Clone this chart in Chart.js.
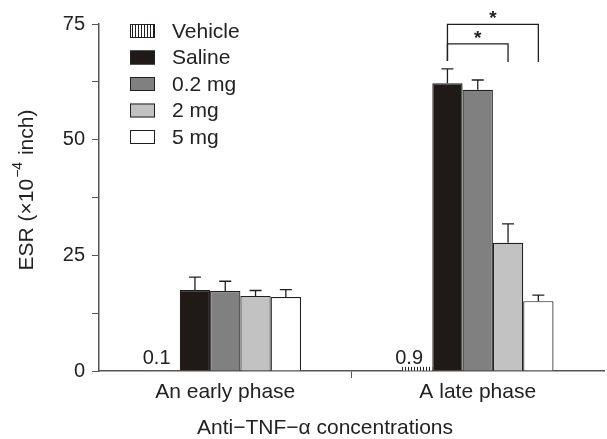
<!DOCTYPE html>
<html>
<head>
<meta charset="utf-8">
<script src="https://cdn.jsdelivr.net/npm/chart.js@4"></script>
<style>
  html, body { margin: 0; padding: 0; background: #fff; }
  #wrap { width: 607px; height: 439px; position: relative; }
</style>
</head>
<body>
<div id="wrap"><canvas id="c"></canvas></div>
<script>
// data
const phases = ['An early phase', 'A late phase'];
const groupNames = ['Vehicle', 'Saline', '0.2 mg', '2 mg', '5 mg'];
const vehicle = [0.1, 0.9];
const saline  = [17.5, 62.2];
const mg02    = [17.3, 60.8];
const mg2     = [16.2, 27.7];
const mg5     = [16.0, 15.1];
// upper error (SEM)
const salineErr = [2.8, 3.1];
const mg02Err   = [2.1, 2.1];
const mg2Err    = [1.2, 4.1];
const mg5Err    = [1.6, 1.3];
const vehicleLabels = ['0.1', '0.9'];
const yTicksShown = [0, 25, 50, 75];
// significance brackets in the late phase: [from group, to group, bracket top, leg bottom, star y]
const brackets = [
    [1, 3, 70.7, 67.0, 72.6],
    [1, 4, 74.9, 67.0, 77.0]
];

const ink = '#231f20';
const axisCol = '#555555';
const font = "'Liberation Sans', Arial, sans-serif";

function hatch() {
    const p = document.createElement('canvas');
    p.width = 3; p.height = 4;
    const g = p.getContext('2d');
    g.fillStyle = '#fff';
    g.fillRect(0, 0, 3, 4);
    g.fillStyle = ink;
    g.fillRect(0, 0, 1, 4);
    return g.createPattern(p, 'repeat');
}

const fills = [hatch(), '#1f1a17', '#808080', '#c2c2c2', '#ffffff'];
const values = [vehicle, saline, mg02, mg2, mg5];
const errs = [null, salineErr, mg02Err, mg2Err, mg5Err];

const extras = {
    id: 'extras',
    afterDatasetsDraw(chart) {
        const ctx = chart.ctx;
        const y = chart.scales.y;
        ctx.save();
        ctx.strokeStyle = ink;
        ctx.lineWidth = 1.3;

        // error bars
        errs.forEach((e, di) => {
            if (!e) return;
            const meta = chart.getDatasetMeta(di);
            meta.data.forEach((bar, i) => {
                const top = y.getPixelForValue(values[di][i] + e[i]);
                ctx.beginPath();
                ctx.moveTo(bar.x, bar.y);
                ctx.lineTo(bar.x, top);
                ctx.moveTo(bar.x - 6, top);
                ctx.lineTo(bar.x + 6, top);
                ctx.stroke();
            });
        });

        // vehicle value labels
        ctx.fillStyle = '#222';
        ctx.font = '20px ' + font;
        ctx.textAlign = 'center';
        ctx.textBaseline = 'bottom';
        chart.getDatasetMeta(0).data.forEach((bar, i) => {
            ctx.fillText(vehicleLabels[i], bar.x - 8, y.getPixelForValue(0) - 3);
        });

        // brackets
        brackets.forEach(b => {
            const x1 = chart.getDatasetMeta(b[0]).data[1].x;
            const x2 = chart.getDatasetMeta(b[1]).data[1].x;
            const top = y.getPixelForValue(b[2]);
            const bot = y.getPixelForValue(b[3]);
            ctx.beginPath();
            ctx.moveTo(x1, bot);
            ctx.lineTo(x1, top);
            ctx.lineTo(x2, top);
            ctx.lineTo(x2, bot + 1);
            ctx.stroke();
            ctx.font = 'bold 19px ' + font;
            ctx.textBaseline = 'middle';
            ctx.fillText('*', (x1 + x2) / 2, y.getPixelForValue(b[4]) + 4);
        });

        // legend
        ctx.font = '21px ' + font;
        ctx.textAlign = 'left';
        ctx.textBaseline = 'middle';
        ctx.lineWidth = 1;
        groupNames.forEach((n, i) => {
            const cy = 31 + i * 26.5;
            ctx.fillStyle = fills[i];
            ctx.fillRect(130, cy - 7, 25, 14);
            ctx.strokeRect(130.5, cy - 6.5, 24, 13);
            ctx.fillStyle = '#222';
            ctx.fillText(n, 172, cy + 1);
        });

        // y title with superscript
        ctx.save();
        ctx.translate(27, 191);
        ctx.rotate(-Math.PI / 2);
        ctx.font = '21px ' + font;
        const a = 'ESR (\u00d710', s = '\u22124', c = ' inch)';
        const wa = ctx.measureText(a).width, wc = ctx.measureText(c).width;
        ctx.font = '14px ' + font;
        const ws = ctx.measureText(s).width;
        let x0 = -(wa + ws + wc) / 2;
        ctx.font = '21px ' + font;
        ctx.fillText(a, x0, 0);
        ctx.font = '14px ' + font;
        ctx.fillText(s, x0 + wa + 1, -9);
        ctx.font = '21px ' + font;
        ctx.fillText(c, x0 + wa + ws + 2, 0);
        ctx.restore();

        // x title
        ctx.font = '21px ' + font;
        ctx.textAlign = 'center';
        ctx.fillText('Anti\u2212TNF\u2212\u03b1 concentrations', 325, 428);
        ctx.restore();
    }
};

new Chart(document.getElementById('c'), {
    type: 'bar',
    data: {
        labels: phases,
        datasets: groupNames.map((n, i) => ({
            label: n,
            data: values[i],
            backgroundColor: fills[i],
            borderColor: ink,
            borderWidth: i === 0 ? 0 : 1.2,
            categoryPercentage: 0.6,
            barPercentage: 1
        }))
    },
    options: {
        responsive: true,
        maintainAspectRatio: false,
        animation: false,
        layout: { padding: { left: 0, right: 3, top: 24, bottom: 0 } },
        plugins: { legend: { display: false }, tooltip: { enabled: false } },
        scales: {
            x: {
                afterFit: s => { s.height = 68; },
                border: { color: axisCol, width: 1.5 },
                grid: {
                    offset: true,
                    drawOnChartArea: false,
                    tickLength: 7,
                    tickColor: c => c.index === 1 ? axisCol : 'rgba(0,0,0,0)'
                },
                ticks: { color: '#222', font: { family: font, size: 21 }, padding: 2 }
            },
            y: {
                min: 0,
                max: 75,
                afterFit: s => { s.width = 99; },
                border: { color: axisCol, width: 1.5 },
                grid: { drawOnChartArea: false, tickLength: 7, tickColor: axisCol },
                ticks: {
                    stepSize: 12.5,
                    color: '#222',
                    padding: 7,
                    font: { family: font, size: 20 },
                    callback: v => yTicksShown.includes(v) ? v : ''
                }
            }
        }
    },
    plugins: [extras]
});
</script>
</body>
</html>
